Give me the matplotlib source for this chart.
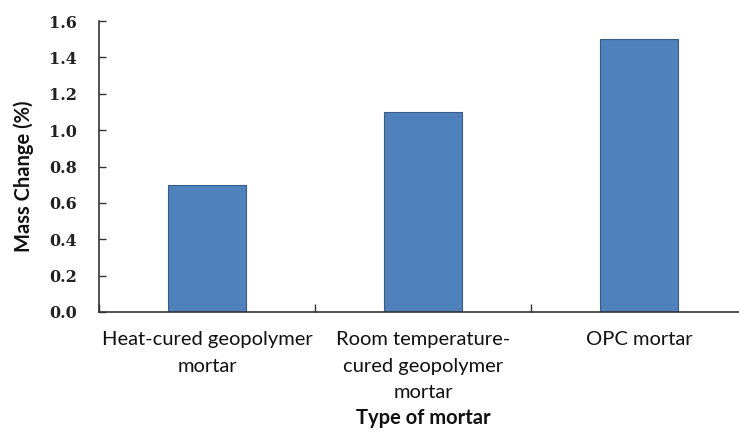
import matplotlib
matplotlib.use("Agg")
import matplotlib.pyplot as plt
import numpy as np

categories = ["Heat-cured geopolymer\nmortar",
              "Room temperature-\ncured geopolymer\nmortar",
              "OPC mortar"]
mass_change = [0.7, 1.1, 1.5]
y_ticks = [0.0, 0.2, 0.4, 0.6, 0.8, 1.0, 1.2, 1.4, 1.6]

W, H = 739, 437
fig = plt.figure(figsize=(W / 100, H / 100), dpi=100)
# plot area runs a bit past the right edge of the picture, as in the source
ax = fig.add_axes([99 / W, (H - 312) / H, 648 / W, 291 / H])

x = np.arange(len(categories))
ax.bar(x, mass_change, width=0.36, color="#4F81BD", edgecolor="#385D8A", linewidth=0.8, zorder=2)

ax.set_xlim(-0.5, len(categories) - 0.5)
ax.set_ylim(0, 1.6)
ax.set_yticks(y_ticks)
ax.set_yticklabels([f"{v:.1f}" for v in y_ticks], family="DejaVu Serif",
                   fontsize=11.5, fontweight="bold", color="#222222")
ax.tick_params(axis="y", direction="in", length=5, width=1, color="#333333", pad=16)

# labels on the category centres, small ticks on the boundaries
ax.set_xticks(x)
ax.set_xticklabels(categories, family="Lato", fontsize=14.5, color="#111111", linespacing=1.65)
ax.tick_params(axis="x", which="major", length=0, pad=14)
ax.set_xticks(np.arange(len(categories) + 1) - 0.5, minor=True)
ax.tick_params(axis="x", which="minor", direction="in", length=6, width=1, color="#333333")

for s in ["top", "right"]:
    ax.spines[s].set_visible(False)
for s in ["left", "bottom"]:
    ax.spines[s].set_color("#333333")
    ax.spines[s].set_linewidth(1.2)

fig.text(423 / W, 1 - 418 / H, "Type of mortar", ha="center", va="center",
         family="Lato", fontsize=14.5, fontweight="bold", color="#111111")
fig.text(24 / W, 1 - 176 / H, "Mass Change (%)", ha="center", va="center",
         rotation=90, family="Lato", fontsize=14.5, fontweight="bold", color="#111111")

fig.savefig("out.png", dpi=100)
